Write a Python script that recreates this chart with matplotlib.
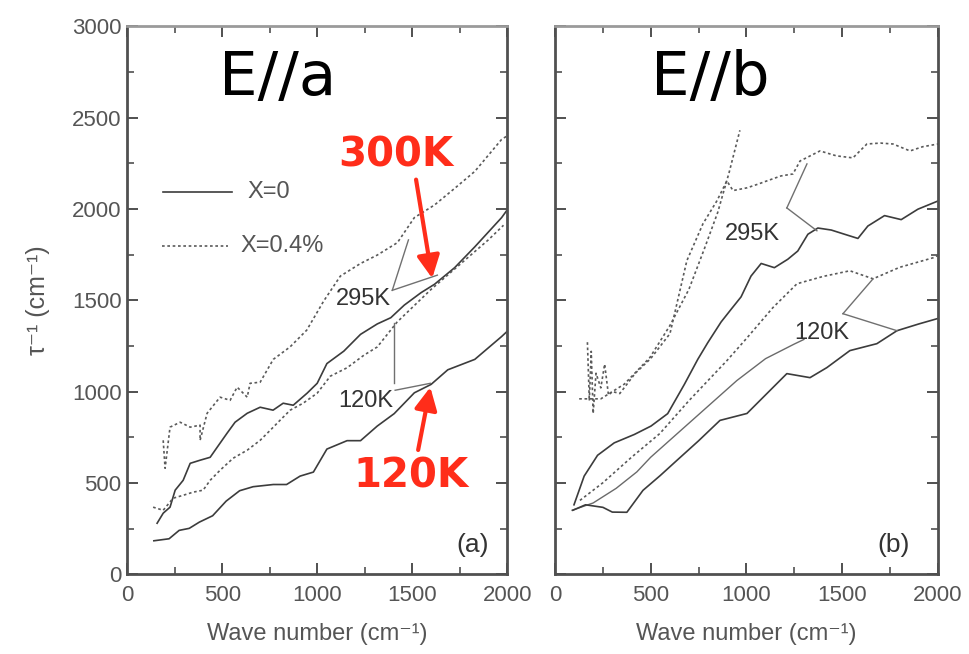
import numpy as np
import matplotlib
matplotlib.use("Agg")
import matplotlib.pyplot as plt
from matplotlib.ticker import MultipleLocator

plt.rcParams['font.family'] = ['Liberation Sans', 'DejaVu Sans']

#%% panel (a), E//a  -- (wave number, 1/tau)
a_d295_x = [190, 200, 226, 279, 332, 384, 384, 421, 489, 542, 579, 632, 647, 700, 769, 857, 945, 1034,
            1122, 1228, 1316, 1422, 1511, 1617, 1723, 1829, 1970, 2000]
a_d295_y = [733, 580, 805, 832, 805, 816, 733, 881, 969, 952, 1024, 969, 1045, 1051, 1176, 1244, 1336, 1495,
            1632, 1701, 1747, 1815, 1952, 2021, 2112, 2205, 2380, 2400]

a_s295_x = [158, 190, 226, 253, 295, 332, 384, 437, 474, 526, 568, 632, 700, 768, 821, 874, 947, 1000,
            1051, 1140, 1228, 1316, 1387, 1458, 1546, 1617, 1723, 1829, 1970, 2000]
a_s295_y = [279, 334, 367, 460, 514, 607, 624, 640, 695, 772, 832, 881, 914, 898, 936, 925, 991, 1045,
            1153, 1221, 1313, 1370, 1404, 1473, 1541, 1587, 1678, 1792, 1952, 1995]

a_d120_x = [137, 190, 242, 295, 347, 400, 437, 489, 558, 632, 700, 753, 805, 858, 926, 1000, 1069, 1157,
            1246, 1316, 1369, 1420, 1500, 1600, 1700, 1800, 1900, 1980]
a_d120_y = [367, 350, 416, 432, 449, 460, 514, 569, 635, 679, 733, 788, 843, 898, 936, 991, 1084, 1130,
            1199, 1244, 1313, 1380, 1460, 1560, 1650, 1740, 1830, 1910]

a_s120_x = [141, 221, 274, 327, 380, 450, 521, 592, 663, 769, 839, 910, 980, 1051, 1157, 1228, 1316, 1405,
            1511, 1599, 1687, 1829, 1970, 2000]
a_s120_y = [183, 194, 240, 251, 285, 320, 400, 457, 479, 491, 491, 537, 559, 685, 731, 731, 811, 879,
            993, 1039, 1119, 1176, 1301, 1330]

#%% panel (b), E//b
b_steep_x = [127, 240, 362, 496, 600, 700, 780, 850, 910, 966]
b_steep_y = [960, 960, 1040, 1186, 1360, 1560, 1780, 1980, 2200, 2430]

b_d295_x = [170, 180, 190, 200, 215, 240, 260, 280, 300, 339, 420, 500, 601, 689, 773, 846, 898, 930, 1003,
            1060, 1107, 1180, 1243, 1280, 1384, 1470, 1556, 1629, 1700, 1765, 1854, 1920, 2000]
b_d295_y = [1270, 950, 1220, 880, 1100, 1020, 1150, 980, 1000, 989, 1100, 1180, 1317, 1716, 1918, 2044, 2153,
            2100, 2115, 2135, 2153, 2180, 2191, 2262, 2317, 2290, 2279, 2355, 2360, 2355, 2317, 2340, 2355]

b_s295_x = [100, 153, 223, 310, 415, 502, 589, 676, 746, 798, 868, 920, 972, 1024, 1077, 1146, 1216, 1268,
            1321, 1373, 1443, 1512, 1582, 1634, 1721, 1808, 1895, 2000]
b_s295_y = [380, 537, 651, 719, 765, 811, 879, 1039, 1176, 1267, 1381, 1450, 1518, 1632, 1701, 1678, 1724,
            1769, 1861, 1895, 1884, 1861, 1838, 1906, 1963, 1941, 1998, 2043]

b_d120_x = [131, 250, 400, 548, 700, 898, 1000, 1138, 1264, 1400, 1540, 1661, 1800, 1974, 2000]
b_d120_y = [404, 500, 640, 770, 950, 1169, 1290, 1459, 1590, 1630, 1661, 1617, 1680, 1732, 1745]

b_diag_x = [90, 200, 320, 428, 500, 650, 800, 950, 1100, 1250, 1300]
b_diag_y = [350, 390, 470, 560, 640, 780, 920, 1060, 1180, 1260, 1285]

b_s120_x = [94, 160, 251, 300, 376, 460, 550, 637, 750, 862, 1003, 1107, 1211, 1332, 1420, 1540, 1681,
            1786, 1900, 2000]
b_s120_y = [350, 380, 366, 340, 339, 459, 540, 623, 730, 842, 880, 989, 1098, 1076, 1131, 1224, 1262,
            1333, 1370, 1400]

xticks = [0, 500, 1000, 1500, 2000]
yticks = [0, 500, 1000, 1500, 2000, 2500, 3000]
legend_labels = ['X=0', 'X=0.4%']

solid = dict(color='#3c3c3c', lw=1.2)
dots = dict(color='#5a5a5a', lw=1.2, ls=(0, (1.6, 1.6)))
lead = dict(color='#707070', lw=1.0)
gray = '#555555'
red = '#ff2d1a'

fig = plt.figure(figsize=(9.7, 6.54), dpi=100)
ax1 = fig.add_axes([0.131, 0.122, 0.392, 0.838])
ax2 = fig.add_axes([0.572, 0.122, 0.395, 0.838])

for ax in (ax1, ax2):
    ax.set_xlim(0, 2000)
    ax.set_ylim(0, 3000)
    ax.set_xticks(xticks)
    ax.xaxis.set_minor_locator(MultipleLocator(250))
    ax.yaxis.set_minor_locator(MultipleLocator(250))
    ax.tick_params(which='both', direction='in', top=True, right=True, colors='#505050',
                   labelcolor=gray, labelsize=16)
    ax.tick_params(axis='x', pad=8)
    ax.tick_params(axis='y', pad=4)
    ax.tick_params(which='major', length=8, width=1.4)
    ax.tick_params(which='minor', length=5, width=1.2)
    for s in ax.spines.values():
        s.set_color('#505050')
        s.set_linewidth(2)
    ax.spines['top'].set_color('#9a9a9a')
    ax.set_xlabel('Wave number (cm⁻¹)', fontsize=17, color=gray, labelpad=12)

ax1.set_yticks(yticks)
ax1.set_ylabel('τ⁻¹ (cm⁻¹)', fontsize=18, color=gray, labelpad=16)
ax2.set_yticks(yticks)
ax2.set_yticklabels([])

#%% (a)
ax1.plot(a_d295_x, a_d295_y, **dots)
ax1.plot(a_s295_x, a_s295_y, **solid)
ax1.plot(a_d120_x, a_d120_y, **dots)
ax1.plot(a_s120_x, a_s120_y, **solid)

ax1.plot([1395, 1480], [1554, 1830], **lead)
ax1.plot([1395, 1632], [1554, 1637], **lead)
ax1.plot([1405, 1405], [1045, 1374], **lead)
ax1.plot([1410, 1595], [1007, 1045], **lead)
ax1.text(1242, 1505, '295K', fontsize=17, color='#333333', ha='center', va='center')
ax1.text(1258, 950, '120K', fontsize=17, color='#333333', ha='center', va='center')

# legend drawn by hand, as in the scan
ax1.plot([0.095, 0.276], [0.697, 0.697], transform=ax1.transAxes, **solid)
ax1.plot([0.092, 0.266], [0.599, 0.599], transform=ax1.transAxes, **dots)
ax1.text(0.316, 0.697, legend_labels[0], transform=ax1.transAxes, fontsize=17, color=gray, va='center')
ax1.text(0.297, 0.599, legend_labels[1], transform=ax1.transAxes, fontsize=17, color=gray, va='center')

ax1.text(0.397, 0.905, 'E//a', transform=ax1.transAxes, fontsize=44, family='DejaVu Sans',
         ha='center', va='center')
ax1.text(0.908, 0.053, '(a)', transform=ax1.transAxes, fontsize=19, color='#333333',
         ha='center', va='center')

ax1.text(1411, 2293, '300K', fontsize=29, color=red, fontweight='bold', family='DejaVu Sans',
         ha='center', va='center')
ax1.text(1495, 536, '120K', fontsize=29, color=red, fontweight='bold', family='DejaVu Sans',
         ha='center', va='center')
arw = dict(arrowstyle='-|>', color=red, lw=3, mutation_scale=34, shrinkA=0, shrinkB=0)
ax1.annotate('', xy=(1605, 1620), xytext=(1520, 2160), arrowprops=arw)
ax1.annotate('', xy=(1595, 1024), xytext=(1531, 680), arrowprops=arw)

#%% (b)
ax2.plot(b_steep_x, b_steep_y, **dots)
ax2.plot(b_d295_x, b_d295_y, **dots)
ax2.plot(b_s295_x, b_s295_y, **solid)
ax2.plot(b_d120_x, b_d120_y, **dots)
ax2.plot(b_diag_x, b_diag_y, color='#6a6a6a', lw=1.0)
ax2.plot(b_s120_x, b_s120_y, **solid)

ax2.plot([1211, 1316], [2005, 2246], **lead)
ax2.plot([1211, 1368], [2005, 1880], **lead)
ax2.plot([1504, 1661], [1426, 1617], **lead)
ax2.plot([1504, 1786], [1426, 1333], **lead)
ax2.text(1031, 1865, '295K', fontsize=17, color='#333333', ha='center', va='center')
ax2.text(1394, 1322, '120K', fontsize=17, color='#333333', ha='center', va='center')

ax2.text(0.405, 0.905, 'E//b', transform=ax2.transAxes, fontsize=44, family='DejaVu Sans',
         ha='center', va='center')
ax2.text(0.883, 0.053, '(b)', transform=ax2.transAxes, fontsize=19, color='#333333',
         ha='center', va='center')

fig.savefig('out.png', dpi=100)
